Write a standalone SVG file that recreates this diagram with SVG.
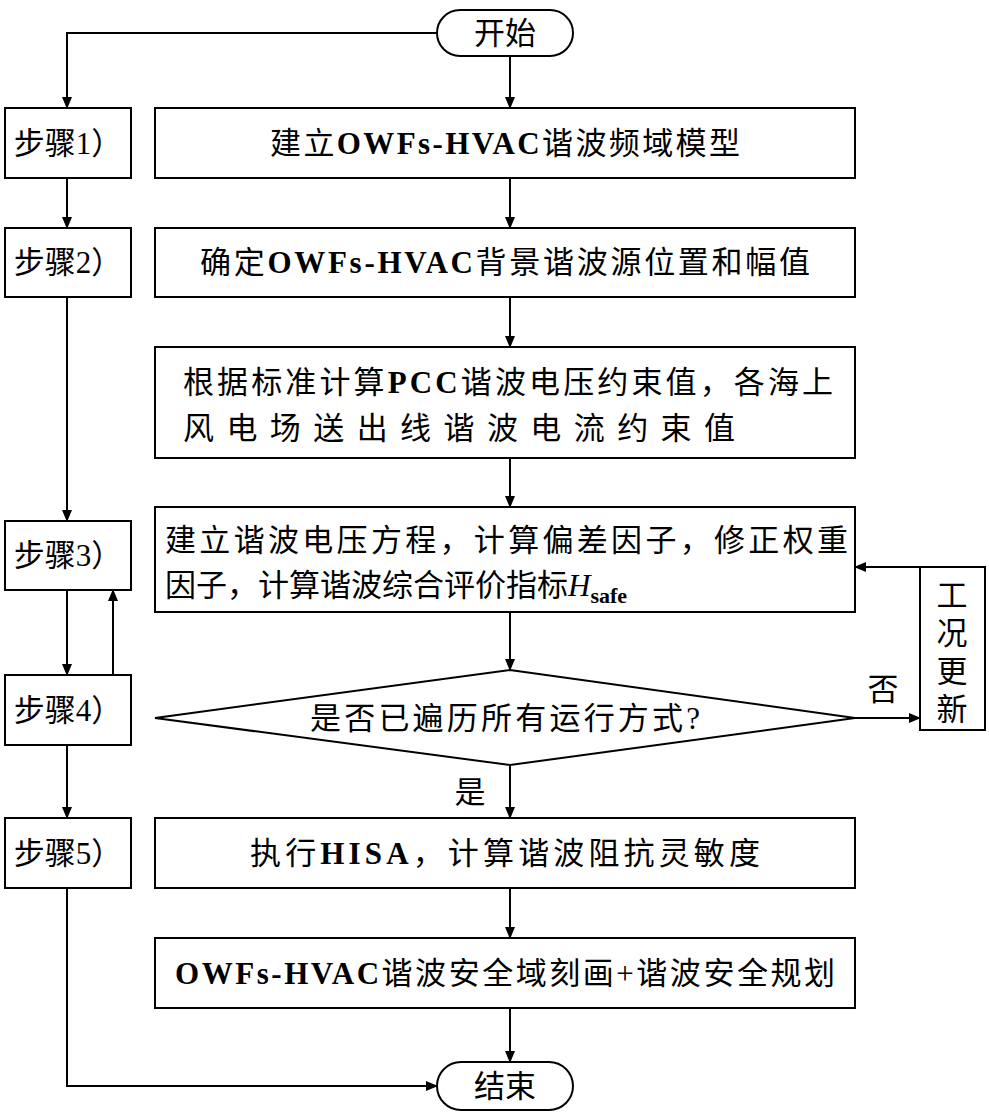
<svg xmlns="http://www.w3.org/2000/svg" width="989" height="1117" viewBox="0 0 989 1117">
<style>
.b{fill:#fff;stroke:#000;stroke-width:2}
.t{font-family:"Liberation Serif","Noto Sans CJK SC",serif;font-size:31px;fill:#000;text-anchor:middle}
.s{text-anchor:start}
.l{fill:none;stroke:#000;stroke-width:2}
</style>
<defs><marker id="a" markerWidth="12" markerHeight="10" refX="11" refY="5" orient="auto" markerUnits="userSpaceOnUse"><path d="M0,0L12,5L0,10z" fill="#000"/></marker></defs>
<rect width="989" height="1117" fill="#fff"/>
<g id="connectors">
<path class="l" marker-end="url(#a)" d="M437,33H67V108"/>
<path class="l" marker-end="url(#a)" d="M67,178V228"/>
<path class="l" marker-end="url(#a)" d="M67,297V521"/>
<path class="l" marker-end="url(#a)" d="M67,590V675"/>
<path class="l" marker-end="url(#a)" d="M113,675V590"/>
<path class="l" marker-end="url(#a)" d="M67,745V818"/>
<path class="l" marker-end="url(#a)" d="M67,888V1086H437"/>
<path class="l" marker-end="url(#a)" d="M510,56V108"/>
<path class="l" marker-end="url(#a)" d="M510,178V228"/>
<path class="l" marker-end="url(#a)" d="M510,297V347"/>
<path class="l" marker-end="url(#a)" d="M510,458V507"/>
<path class="l" marker-end="url(#a)" d="M510,612V670"/>
<path class="l" marker-end="url(#a)" d="M510,765V818"/>
<path class="l" marker-end="url(#a)" d="M510,888V938"/>
<path class="l" marker-end="url(#a)" d="M510,1008V1062"/>
<path class="l" marker-end="url(#a)" d="M855,718H920"/>
<path class="l" marker-end="url(#a)" d="M920,567H855"/>
<text class="t" x="883" y="700">否</text>
<text class="t" x="470" y="803">是</text>
</g>
<g id="start"><rect class="b" x="437" y="10" width="136" height="46" rx="23"/><text class="t" x="505" y="44">开始</text></g>
<g id="end"><rect class="b" x="437" y="1062" width="136" height="48" rx="24"/><text class="t" x="505" y="1097">结束</text></g>
<g id="s1"><rect class="b" x="5" y="108" width="126" height="70"/><text class="t" x="68" y="154">步骤1）</text></g>
<g id="s2"><rect class="b" x="5" y="228" width="126" height="69"/><text class="t" x="68" y="273">步骤2）</text></g>
<g id="s3"><rect class="b" x="5" y="521" width="126" height="69"/><text class="t" x="68" y="566">步骤3）</text></g>
<g id="s4"><rect class="b" x="5" y="675" width="126" height="70"/><text class="t" x="68" y="721">步骤4）</text></g>
<g id="s5"><rect class="b" x="5" y="818" width="126" height="70"/><text class="t" x="68" y="864">步骤5）</text></g>
<g id="b1"><rect class="b" x="155" y="108" width="700" height="70"/><text class="t" x="505" y="154" textLength="470" lengthAdjust="spacing">建立<tspan font-weight="bold">OWFs-HVAC</tspan>谐波频域模型</text></g>
<g id="b2"><rect class="b" x="155" y="228" width="700" height="69"/><text class="t" x="505" y="273" textLength="610" lengthAdjust="spacing">确定<tspan font-weight="bold">OWFs-HVAC</tspan>背景谐波源位置和幅值</text></g>
<g id="b3"><rect class="b" x="155" y="347" width="700" height="111"/><text class="t s" x="183" y="393" textLength="650" lengthAdjust="spacing">根据标准计算<tspan font-weight="bold">PCC</tspan>谐波电压约束值，各海上</text><text class="t s" x="183" y="439" textLength="552" lengthAdjust="spacing">风电场送出线谐波电流约束值</text></g>
<g id="b4"><rect class="b" x="155" y="507" width="700" height="105"/><text class="t s" x="165" y="551" textLength="683" lengthAdjust="spacing">建立谐波电压方程，计算偏差因子，修正权重</text><text class="t s" x="165" y="596">因子，计算谐波综合评价指标<tspan font-style="italic">H</tspan><tspan font-size="22" font-weight="bold" dy="7">safe</tspan></text></g>
<g id="d"><polygon class="b" points="155,718 510,670 855,718 510,765"/><text class="t" x="505" y="729" textLength="390" lengthAdjust="spacing">是否已遍历所有运行方式?</text></g>
<g id="b5"><rect class="b" x="155" y="818" width="700" height="70"/><text class="t" x="505" y="864" textLength="510" lengthAdjust="spacing">执行<tspan font-weight="bold">HISA</tspan>，计算谐波阻抗灵敏度</text></g>
<g id="b6"><rect class="b" x="155" y="938" width="700" height="70"/><text class="t" x="505" y="984" textLength="660" lengthAdjust="spacing"><tspan font-weight="bold">OWFs-HVAC</tspan>谐波安全域刻画+谐波安全规划</text></g>
<g id="upd"><rect class="b" x="920" y="567" width="65" height="163"/><text class="t" x="952" y="606">工</text><text class="t" x="952" y="644">况</text><text class="t" x="952" y="682">更</text><text class="t" x="952" y="720">新</text></g>
</svg>
